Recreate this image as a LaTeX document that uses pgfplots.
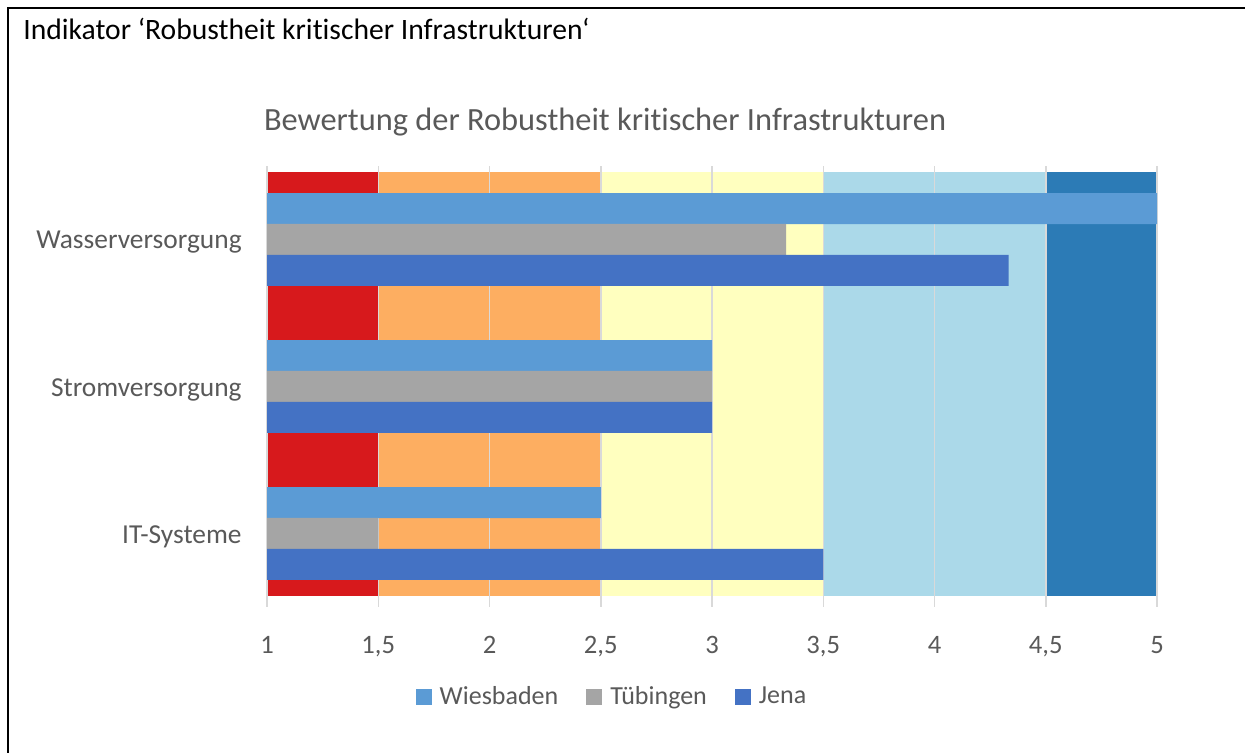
\documentclass[border=0pt]{standalone}
\usepackage{fontspec}
\setmainfont{Carlito}[Ligatures={NoCommon}]
\usepackage{pgfplots}
\pgfplotsset{compat=1.18}
\definecolor{bRed}{HTML}{D7191C}
\definecolor{bOrange}{HTML}{FDAE61}
\definecolor{bYellow}{HTML}{FFFFBF}
\definecolor{bLight}{HTML}{ABD9E9}
\definecolor{bDark}{HTML}{2C7BB6}
\definecolor{cWies}{HTML}{5B9BD5}
\definecolor{cTueb}{HTML}{A5A5A5}
\definecolor{cJena}{HTML}{4472C4}
\definecolor{txtgray}{HTML}{595959}
\definecolor{gridgray}{HTML}{D9D9D9}
\begin{document}
\begin{tikzpicture}
\useasboundingbox (0,0) rectangle (622.5pt,376.5pt);
% frame (top and left only)
\draw[line width=1.25pt] (4pt,-2pt) -- (4pt,372.5pt) -- (625pt,372.5pt);
% texts
\node[anchor=base west, inner sep=0pt, font=\fontsize{14.8}{17}\selectfont] at (11.5pt,356.5pt) {Indikator ‘Robustheit kritischer Infrastrukturen‘};
\node[anchor=base, inner sep=0pt, text=txtgray, font=\fontsize{16.2}{19}\selectfont] at (302.5pt,311pt) {Bewertung der Robustheit kritischer Infrastrukturen};
% background bands
\begin{axis}[
  at={(133.5pt,73pt)}, anchor=south west,
  scale only axis, width=445pt, height=220.5pt,
  xmin=1, xmax=5, ymin=-0.5, ymax=2.5,
  hide axis,
  xbar stacked, bar width=212pt,
]
\addplot[fill=bRed, draw=none] coordinates {(1.5,1.017)};
\addplot[fill=bOrange, draw=none] coordinates {(1,1.017)};
\addplot[fill=bYellow, draw=none] coordinates {(1,1.017)};
\addplot[fill=bLight, draw=none] coordinates {(1,1.017)};
\addplot[fill=bDark, draw=none] coordinates {(0.5,1.017)};
\end{axis}
% main axis
\begin{axis}[
  at={(133.5pt,73pt)}, anchor=south west,
  scale only axis, width=445pt, height=220.5pt,
  xmin=1, xmax=5, ymin=-0.5, ymax=2.5,
  axis line style={draw=none},
  major tick length=0pt,
  xtick={1,1.5,2,2.5,3,3.5,4,4.5,5},
  xticklabels={1,{1,5},2,{2,5},3,{3,5},4,{4,5},5},
  ytick={0,1,2},
  yticklabels={IT-Systeme,Stromversorgung,Wasserversorgung},
  xmajorgrids=true,
  major grid style={color=gridgray, line width=0.75pt},
  xticklabel style={anchor=base, inner sep=0pt, yshift=-23.25pt, text=txtgray, font=\fontsize{13.3}{16}\selectfont},
  yticklabel style={anchor=east, inner sep=0pt, xshift=-12.5pt, yshift=-1.5pt, text=txtgray, font=\fontsize{13.7}{16}\selectfont},
  xbar, bar width=15.5pt,
  legend columns=3,
  legend style={at={(0.3865,-0.2041)}, anchor=center, draw=none, fill=none,
    inner sep=0pt,
    nodes={inner sep=0pt, text=txtgray, font=\fontsize{13}{16}\selectfont},
    /tikz/every odd column/.append style={column sep=4pt},
    /tikz/every even column/.append style={column sep=14pt}},
  legend image code/.code={\fill[#1] (0pt,-4pt) rectangle (8pt,4pt);},
]
\addplot[fill=cWies, draw=none, bar shift=15.4pt] coordinates {(5,2) (3,1) (2.5,0)};
\addplot[fill=cTueb, draw=none, bar shift=0pt] coordinates {(3.333,2) (3,1) (1.5,0)};
\addplot[fill=cJena, draw=none, bar shift=-15.4pt] coordinates {(4.333,2) (3,1) (3.5,0)};
\legend{Wiesbaden,Tübingen,Jena}
\end{axis}
\end{tikzpicture}
\end{document}
